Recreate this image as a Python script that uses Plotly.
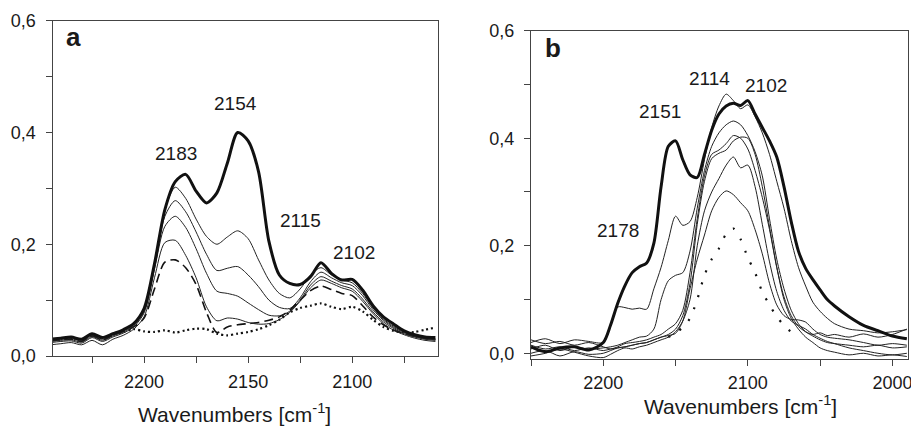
import plotly.graph_objects as go

# ---------------- Panel a data ----------------
wn_a = [2245, 2240, 2235, 2230, 2225, 2220, 2215, 2210, 2205, 2200,
        2195, 2190, 2185, 2180, 2175, 2170, 2165, 2160, 2155, 2150,
        2145, 2140, 2135, 2130, 2125, 2120, 2115, 2110, 2105, 2100,
        2095, 2090, 2085, 2080, 2075, 2070, 2065, 2060]

a_thick = [0.030, 0.032, 0.034, 0.030, 0.040, 0.033, 0.040, 0.047, 0.058, 0.085,
           0.165, 0.262, 0.312, 0.325, 0.295, 0.274, 0.292, 0.345, 0.400, 0.385,
           0.330, 0.205, 0.145, 0.130, 0.128, 0.142, 0.167, 0.148, 0.136, 0.137,
           0.118, 0.090, 0.070, 0.057, 0.045, 0.038, 0.034, 0.033]
a_thin1 = [0.028, 0.030, 0.031, 0.027, 0.037, 0.030, 0.038, 0.045, 0.056, 0.083,
           0.165, 0.262, 0.302, 0.282, 0.245, 0.214, 0.200, 0.213, 0.224, 0.210,
           0.172, 0.136, 0.112, 0.104, 0.120, 0.145, 0.158, 0.145, 0.136, 0.131,
           0.112, 0.086, 0.066, 0.053, 0.043, 0.036, 0.032, 0.030]
a_thin2 = [0.026, 0.028, 0.029, 0.025, 0.035, 0.028, 0.036, 0.043, 0.054, 0.080,
           0.160, 0.250, 0.278, 0.258, 0.222, 0.182, 0.153, 0.157, 0.160, 0.145,
           0.124, 0.100, 0.087, 0.085, 0.104, 0.133, 0.150, 0.140, 0.131, 0.126,
           0.108, 0.083, 0.064, 0.051, 0.042, 0.035, 0.031, 0.029]
a_thin3 = [0.024, 0.026, 0.027, 0.023, 0.033, 0.026, 0.034, 0.041, 0.052, 0.077,
           0.155, 0.232, 0.250, 0.230, 0.192, 0.148, 0.116, 0.112, 0.107, 0.095,
           0.083, 0.073, 0.072, 0.080, 0.100, 0.127, 0.142, 0.134, 0.126, 0.120,
           0.102, 0.079, 0.061, 0.049, 0.040, 0.034, 0.030, 0.028]
a_thin4 = [0.020, 0.022, 0.024, 0.020, 0.028, 0.020, 0.030, 0.037, 0.048, 0.070,
           0.140, 0.203, 0.207, 0.180, 0.140, 0.088, 0.063, 0.068, 0.066, 0.060,
           0.057, 0.058, 0.065, 0.078, 0.098, 0.122, 0.136, 0.130, 0.122, 0.116,
           0.098, 0.076, 0.058, 0.046, 0.038, 0.032, 0.028, 0.026]
a_dash = [0.027, 0.029, 0.030, 0.026, 0.036, 0.029, 0.037, 0.044, 0.052, 0.068,
          0.120, 0.168, 0.172, 0.158, 0.128, 0.078, 0.042, 0.052, 0.056, 0.058,
          0.060, 0.064, 0.070, 0.082, 0.100, 0.117, 0.125, 0.119, 0.112, 0.108,
          0.090, 0.070, 0.056, 0.046, 0.040, 0.035, 0.032, 0.030]
a_dot = [0.030, 0.031, 0.032, 0.030, 0.036, 0.032, 0.038, 0.043, 0.048, 0.044,
         0.043, 0.046, 0.042, 0.046, 0.049, 0.048, 0.040, 0.037, 0.040, 0.043,
         0.048, 0.055, 0.065, 0.078, 0.086, 0.090, 0.094, 0.088, 0.084, 0.088,
         0.080, 0.065, 0.052, 0.045, 0.042, 0.043, 0.047, 0.051]

# ---------------- Panel b data ----------------
wn_b = [2250, 2240, 2230, 2220, 2210, 2200, 2195, 2190, 2185, 2180,
        2175, 2170, 2165, 2160, 2155, 2150, 2145, 2140, 2135, 2130,
        2125, 2120, 2115, 2110, 2105, 2100, 2095, 2090, 2085, 2080,
        2075, 2070, 2065, 2060, 2055, 2050, 2045, 2040, 2030, 2020,
        2010, 2000, 1990]

b_thick = [0.012, 0.003, 0.010, 0.012, 0.006, 0.020, 0.052, 0.093, 0.126, 0.150,
           0.161, 0.168, 0.205, 0.310, 0.385, 0.395, 0.360, 0.332, 0.327, 0.370,
           0.415, 0.445, 0.460, 0.465, 0.461, 0.470, 0.445, 0.420, 0.395, 0.365,
           0.310, 0.245, 0.190, 0.158, 0.137, 0.118, 0.100, 0.088, 0.068, 0.052,
           0.042, 0.032, 0.027]
b_thin1 = [0.020, 0.027, 0.018, 0.025, 0.022, 0.020, 0.050, 0.086, 0.085, 0.082,
           0.084, 0.082, 0.120, 0.160, 0.210, 0.255, 0.238, 0.245, 0.290, 0.360,
           0.420, 0.460, 0.482, 0.470, 0.455, 0.462, 0.440, 0.410, 0.370, 0.320,
           0.270, 0.210, 0.160, 0.125, 0.095, 0.078, 0.065, 0.055, 0.045, 0.042,
           0.038, 0.040, 0.044]
b_thin2 = [0.008, 0.015, 0.005, 0.012, 0.008, 0.010, 0.012, 0.015, 0.020, 0.025,
           0.030, 0.032, 0.045, 0.100, 0.135, 0.145, 0.150, 0.190, 0.270, 0.340,
           0.385, 0.410, 0.425, 0.432, 0.425, 0.405, 0.375, 0.330, 0.250, 0.175,
           0.120, 0.080, 0.055, 0.040, 0.032, 0.025, 0.020, 0.018, 0.015, 0.012,
           0.015, 0.010, 0.012]
b_thin3 = [0.025, 0.018, 0.022, 0.015, 0.020, 0.012, 0.008, 0.012, 0.018, 0.020,
           0.022, 0.025, 0.030, 0.035, 0.045, 0.055, 0.080, 0.150, 0.250, 0.330,
           0.370, 0.378, 0.390, 0.405, 0.400, 0.380, 0.340, 0.290, 0.230, 0.160,
           0.105, 0.070, 0.050, 0.040, 0.035, 0.038, 0.033, 0.035, 0.030, 0.036,
           0.030, 0.035, 0.045]
b_thin4 = [0.000, 0.005, -0.005, 0.003, -0.002, 0.000, 0.005, 0.010, 0.012, 0.015,
           0.018, 0.020, 0.025, 0.030, 0.035, 0.045, 0.070, 0.130, 0.240, 0.320,
           0.362, 0.372, 0.378, 0.395, 0.402, 0.400, 0.370, 0.310, 0.235, 0.160,
           0.100, 0.065, 0.045, 0.030, 0.020, 0.010, 0.005, 0.002, -0.003, 0.000,
           -0.005, -0.003, -0.006]
b_thin5 = [-0.005, 0.000, 0.008, 0.002, -0.005, -0.008, -0.002, 0.005, 0.010, 0.008,
           0.012, 0.015, 0.020, 0.025, 0.030, 0.040, 0.060, 0.100, 0.200, 0.265,
           0.300, 0.325, 0.350, 0.365, 0.345, 0.350, 0.310, 0.240, 0.170, 0.115,
           0.080, 0.060, 0.052, 0.045, 0.035, 0.028, 0.022, 0.018, 0.010, 0.005,
           0.000, -0.003, 0.000]
b_thin6 = [0.015, 0.008, 0.012, 0.005, 0.010, 0.005, 0.008, 0.010, 0.012, 0.015,
           0.018, 0.020, 0.025, 0.030, 0.033, 0.037, 0.060, 0.120, 0.175, 0.220,
           0.265, 0.290, 0.302, 0.295, 0.280, 0.265, 0.230, 0.185, 0.130, 0.090,
           0.070, 0.063, 0.062, 0.058, 0.045, 0.035, 0.030, 0.028, 0.025, 0.020,
           0.015, 0.018, 0.015]
b_dot = [None, None, None, None, None, None, None, None, None, None,
         None, None, None, None, 0.030, 0.038, 0.048, 0.065, 0.100, 0.145,
         0.175, 0.195, 0.222, 0.232, 0.212, 0.178, 0.150, 0.114, 0.090, 0.068,
         0.052, 0.040, 0.034, None, None, None, None, None, None, None,
         None, None, None]

# peak labels: (text, wavenumber, absorbance)
labels_a = [("2183", 2184.8, 0.3625), ("2154", 2156.3, 0.452),
            ("2115", 2124.9, 0.243), ("2102", 2099.1, 0.186)]
labels_b = [("2178", 2189.8, 0.229), ("2151", 2160.5, 0.450),
            ("2114", 2126.5, 0.512), ("2102", 2087.1, 0.499)]

# The page body has an 8px margin, so the figure is drawn 8px in from the
# window's corner; size it so that it exactly fills the 919x431 window.
PAGE_W, PAGE_H, OFF = 919, 431, 8
W, H = PAGE_W - OFF, PAGE_H - OFF
FONT = "Liberation Sans, Arial, sans-serif"
INK = "#1a1a1a"

fig = go.Figure()

def add(x, y, ax, width=1, dash="solid", color="#222"):
    fig.add_trace(go.Scatter(
        x=x, y=y, mode="lines", xaxis=ax[0], yaxis=ax[1],
        line=dict(color=color, width=width, dash=dash, shape="spline", smoothing=0.8),
        hoverinfo="skip", connectgaps=False))

A = ("x", "y")
B = ("x2", "y2")
add(wn_a, a_dot, A, width=2.2, dash="2px,3px", color="#111")
add(wn_a, a_dash, A, width=1.6, dash="9px,5px", color="#111")
for s in (a_thin4, a_thin3, a_thin2, a_thin1):
    add(wn_a, s, A, width=1)
add(wn_a, a_thick, A, width=3, color="#111")

add(wn_b, b_dot, B, width=2.2, dash="2px,11px", color="#111")
for s in (b_thin6, b_thin5, b_thin4, b_thin3, b_thin2, b_thin1):
    add(wn_b, s, B, width=1)
add(wn_b, b_thick, B, width=3, color="#111")

def fx(px):  # window pixel -> paper x
    return (px - OFF) / W

def fy(py):  # window pixel -> paper y
    return 1 - (py - OFF) / H

def px_dom_x(l, r):
    return [fx(l), fx(r)]

def px_dom_y(top, bottom):
    return [fy(bottom), fy(top)]

axline = dict(showline=True, linecolor="#444", linewidth=1, mirror=True,
              showgrid=False, zeroline=False, ticks="outside", ticklen=6,
              tickcolor="#444", automargin=False,
              tickfont=dict(size=18, color=INK, family=FONT))
overlay = dict(showticklabels=False, showgrid=False, zeroline=False, showline=False,
               ticks="inside", ticklen=5, tickcolor="#444", automargin=False)

fig.update_layout(
    width=W, height=H, margin=dict(l=0, r=0, t=0, b=0, autoexpand=False),
    paper_bgcolor="white", plot_bgcolor="white", showlegend=False,
    separators=",.", font=dict(family=FONT, color=INK, size=18),
    xaxis=dict(domain=px_dom_x(52.5, 437.5), anchor="y", range=[2244, 2059],
               tick0=2200, dtick=50, tickformat="d", ticklabelstandoff=3,
               minor=dict(dtick=25, tick0=2200, ticks="outside", ticklen=6, tickcolor="#444"),
               **axline),
    yaxis=dict(domain=px_dom_y(20.7, 356), anchor="x", range=[0, 0.6],
               tick0=0, dtick=0.2, tickformat=".1f", ticklabelstandoff=6,
               minor=dict(dtick=0.1, tick0=0, ticks="outside", ticklen=6, tickcolor="#444"),
               **axline),
    xaxis2=dict(domain=px_dom_x(531, 908.3), anchor="y2", range=[2250, 1989],
                tick0=2200, dtick=100, tickformat="d", ticklabelstandoff=1,
                minor=dict(dtick=50, tick0=2200, ticks="outside", ticklen=6, tickcolor="#444"),
                **axline),
    yaxis2=dict(domain=px_dom_y(30.7, 359.3), anchor="x2", range=[-0.0112, 0.6],
                tick0=0, dtick=0.2, tickformat=".1f", ticklabelstandoff=6,
                minor=dict(dtick=0.1, tick0=0, ticks="outside", ticklen=6, tickcolor="#444"),
                **axline),
    # inward mirror ticks on top / right
    xaxis3=dict(overlaying="x", anchor="y", side="top", range=[2244, 2059],
                tick0=2200, dtick=25, **overlay),
    yaxis3=dict(overlaying="y", anchor="x", side="right", range=[0, 0.6],
                tick0=0, dtick=0.1, **overlay),
    xaxis4=dict(overlaying="x2", anchor="y2", side="top", range=[2250, 1989],
                tick0=2200, dtick=50, **overlay),
    yaxis4=dict(overlaying="y2", anchor="x2", side="right", range=[-0.0112, 0.6],
                tick0=0, dtick=0.1, **overlay),
)

def note(text, x, y, xref, yref, size):
    return dict(text=text, x=x, y=y, xref=xref, yref=yref, showarrow=False,
                xanchor="center", yanchor="middle",
                font=dict(size=size, color=INK, family=FONT))

ann = []
for t, x, y in labels_a:
    ann.append(note(t, x, y, "x", "y", 19))
for t, x, y in labels_b:
    ann.append(note(t, x, y, "x2", "y2", 19))
ann.append(note("<b>a</b>", fx(73), fy(37), "paper", "paper", 26))
ann.append(note("<b>b</b>", fx(553), fy(48), "paper", "paper", 26))
xlabel = "Wavenumbers [cm<sup>-1</sup>]"
ann.append(note(xlabel, fx(234), fy(413), "paper", "paper", 21))
ann.append(note(xlabel, fx(740), fy(405), "paper", "paper", 21))
fig.update_layout(annotations=ann)

fig.write_html("out.html")
